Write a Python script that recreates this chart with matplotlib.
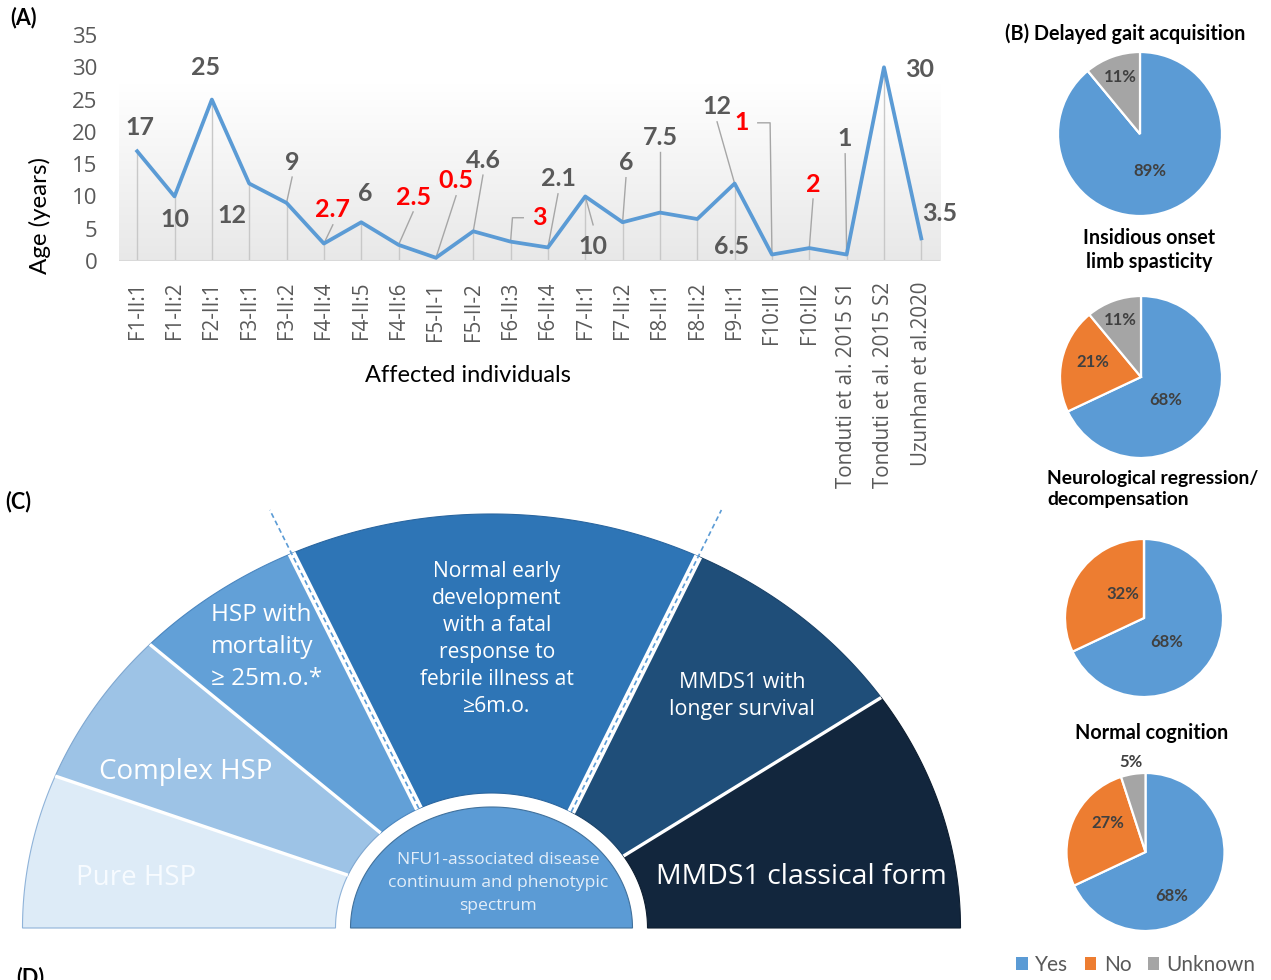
import numpy as np
import matplotlib
matplotlib.use('Agg')
import matplotlib.pyplot as plt
from matplotlib.patches import Polygon, Patch

W, H = 1271, 980

# ---------------- data ----------------
individuals = ["F1-II:1", "F1-II:2", "F2-II:1", "F3-II:1", "F3-II:2", "F4-II:4",
               "F4-II:5", "F4-II:6", "F5-II-1", "F5-II-2", "F6-II:3", "F6-II:4",
               "F7-II:1", "F7-II:2", "F8-II:1", "F8-II:2", "F9-II:1", "F10:II1",
               "F10:II2", "Tonduti et al. 2015 S1", "Tonduti et al. 2015 S2",
               "Uzunhan et al.2020"]
ages = [17, 10, 25, 12, 9, 2.7, 6, 2.5, 0.5, 4.6, 3, 2.1, 10, 6, 7.5, 6.5, 12, 1, 2, 1, 30, 3.5]
age_labels = ["17", "10", "25", "12", "9", "2.7", "6", "2.5", "0.5", "4.6", "3", "2.1",
              "10", "6", "7.5", "6.5", "12", "1", "2", "1", "30", "3.5"]
red_label = [False, False, False, False, False, True, False, True, True, False, True, False,
             False, False, False, False, False, True, True, False, False, False]
y_ticks = [0, 5, 10, 15, 20, 25, 30, 35]

pie_titles = ["(B) Delayed gait acquisition", "Insidious onset\nlimb spasticity",
              "Neurological regression/\ndecompensation", "Normal cognition"]
pie_yes = [89, 68, 68, 68]
pie_no = [0, 21, 32, 27]
pie_unknown = [11, 11, 0, 5]
pie_categories = ["Yes", "No", "Unknown"]

spectrum_labels = ["Pure HSP", "Complex HSP", "HSP with\nmortality\n\u2265 25m.o.*",
                   "Normal early\ndevelopment\nwith a fatal\nresponse to\nfebrile illness at\n\u22656m.o.",
                   "MMDS1 with\nlonger survival", "MMDS1 classical form"]
center_label = "NFU1-associated disease\ncontinuum and phenotypic\nspectrum"

# ---------------- layout / style ----------------
LINE_BLUE = '#5B9BD5'
GRAY_TXT = '#595959'
pie_colors = ['#5B9BD5', '#ED7D31', '#A5A5A5']

# label positions for panel A (category index, value units)
lab_pos = [(0.08, 20.75), (1.01, 6.5), (1.82, 29.9), (2.54, 7.1), (4.15, 15.3),
           (5.24, 7.9), (6.10, 10.5), (7.39, 9.9), (8.54, 12.4), (9.26, 15.6),
           (10.76, 6.7), (11.27, 12.7), (12.21, 2.2), (13.09, 15.2), (14.00, 19.2),
           (15.93, 2.2), (15.53, 23.85), (16.2, 21.4), (18.1, 11.9), (18.96, 18.9),
           (20.96, 29.7), (21.5, 7.3)]
leader = [None, None, None, None, 's', 's', None, 's', 's', 's', 'e', 's', 's', 's', 's',
          None, 's', 'e', 's', 's', None, None]

fig = plt.figure(figsize=(W / 100, H / 100), dpi=100)

# ---------------- panel C (background axes in pixel coords) ----------------
bg = fig.add_axes([0, 0, 1, 1])
bg.set_xlim(0, W)
bg.set_ylim(H, 0)
bg.axis('off')

CX, CY = 491.5, 928.0
A_OUT, B_OUT = 469.0, 414.0
A_IN, B_IN = 156.0, 135.0


def ell(theta, a, b):
    t = np.radians(theta)
    r = a * b / np.sqrt((b * np.cos(t)) ** 2 + (a * np.sin(t)) ** 2)
    return CX + r * np.cos(t), CY - r * np.sin(t)


bounds = [(180, 180), (160.8, 159.8), (140.3, 139.4), (118.1, 121.3), (60.9, 55.5),
          (30.6, 28.6), (0, 0)]
seg_colors = ['#DDEBF7', '#9DC3E6', '#62A0D7', '#2E75B6', '#1F4E79', '#12263D']
seg_edges = ['#8FB3D9', '#7FA7D0', '#4A86C0', '#2A66A0', '#1A4268', '#0E1E30']

for k in range(6):
    o1, i1 = bounds[k]
    o2, i2 = bounds[k + 1]
    to = np.linspace(o1, o2, 80)
    ti = np.linspace(i2, i1, 60)
    xo, yo = ell(to, A_OUT, B_OUT)
    xi, yi = ell(ti, A_IN, B_IN)
    pts = np.column_stack([np.concatenate([xo, xi]), np.concatenate([yo, yi])])
    bg.add_patch(Polygon(pts, closed=True, facecolor=seg_colors[k],
                         edgecolor=seg_edges[k], lw=0.8, zorder=1))

for k in range(1, 6):
    o, i = bounds[k]
    xo, yo = ell(o, A_OUT, B_OUT)
    xi, yi = ell(i, A_IN, B_IN)
    if k in (3, 4):
        dx, dy = xo - xi, yo - yi
        s = (510 - yi) / dy
        xe, ye = xi + s * dx, yi + s * dy
        bg.plot([xi, xo], [yi, yo], color='white', lw=6.0, solid_capstyle='butt', zorder=2)
        bg.plot([xi, xe], [yi, ye], color='#5B9BD5', lw=1.2, ls=(0, (3, 2)), zorder=3)
    else:
        bg.plot([xi, xo], [yi, yo], color='white', lw=2.4, solid_capstyle='butt', zorder=2)

# central disc
td = np.linspace(0, 180, 120)
xd, yd = ell(td, 141.0, 121.0)
bg.add_patch(Polygon(np.column_stack([xd, yd]), closed=True, facecolor='#5B9BD5',
                     edgecolor='#41719C', lw=0.8, zorder=2))

cfont = ['Open Sans', 'DejaVu Sans']
bg.text(136, 878, spectrum_labels[0], color='#F7FBFF', fontsize=20, family=cfont,
        ha='center', va='center', zorder=4)
bg.text(186, 772, spectrum_labels[1], color='white', fontsize=20, family=cfont,
        ha='center', va='center', zorder=4)
bg.text(211, 647, spectrum_labels[2], color='white', fontsize=17.5, family=cfont,
        ha='left', va='center', multialignment='left', linespacing=1.45, zorder=4)
bg.text(497, 639, spectrum_labels[3], color='white', fontsize=15.2, family=cfont,
        ha='center', va='center', linespacing=1.38, zorder=4)
bg.text(742, 696, spectrum_labels[4], color='white', fontsize=15.4, family=cfont,
        ha='center', va='center', linespacing=1.42, zorder=4)
bg.text(801, 877, spectrum_labels[5], color='white', fontsize=20.5, family=cfont,
        ha='center', va='center', zorder=4)
bg.text(498, 883, center_label, color='#E3EEF9', fontsize=12.6, family=cfont,
        ha='center', va='center', linespacing=1.55, zorder=4)

bg.text(10, 18, "(A)", fontsize=15.5, fontweight='bold', family='Lato', ha='left', va='center')
bg.text(5, 502, "(C)", fontsize=15.5, fontweight='bold', family='Lato', ha='left', va='center')
bg.text(16, 967, "(D)", fontsize=15.5, fontweight='bold', family='Lato', ha='left', va='top')

# ---------------- panel A ----------------
ax = fig.add_axes([118.5 / W, 1 - 261 / H, 821.5 / W, 226 / H])
ax.patch.set_alpha(0)
x = np.arange(len(individuals))
grad = np.linspace(0, 1, 256)[:, None]
top_c = np.array([1.0, 1.0, 1.0])
bot_c = np.array([0.91, 0.91, 0.91])
img = top_c[None, None, :] * (1 - grad[:, :, None]) + bot_c[None, None, :] * grad[:, :, None]
ax.imshow(img, extent=[-0.5, len(individuals) - 0.5, 0, 27.3], aspect='auto', zorder=0)
ax.vlines(x, 0, ages, color='#C8C8C8', lw=1.0, zorder=1)
ax.axhline(0, color='#D9D9D9', lw=2.2, zorder=2)
ax.plot(x, ages, color=LINE_BLUE, lw=2.7, zorder=4, solid_joinstyle='round')

for i, (lab, (lx, ly)) in enumerate(zip(age_labels, lab_pos)):
    col = '#FF0000' if red_label[i] else GRAY_TXT
    ax.text(lx, ly, lab, color=col, fontsize=18, fontweight='bold', family='Lato',
            ha='center', va='center', zorder=5, clip_on=False)
    v = ages[i]
    if leader[i] == 's':
        if ly > v:
            sy = ly - 2.3
        else:
            sy = ly + 3.4
        ax.plot([lx, i], [sy, v], color='#A6A6A6', lw=1.0, zorder=3)
    elif leader[i] == 'e':
        sgn = 1 if lx > i else -1
        ax.plot([lx - sgn * 0.42, i + sgn * 0.05, i], [ly, ly, v], color='#A6A6A6',
                lw=1.0, zorder=3)

ax.set_xlim(-0.5, len(individuals) - 0.5)
ax.set_ylim(0, 35)
ax.set_xticks(x)
ax.set_xticklabels(individuals, rotation=90, family='Open Sans', fontsize=14.8,
                   color=GRAY_TXT)
ax.set_yticks(y_ticks)
ax.set_yticklabels([str(t) for t in y_ticks], family='Open Sans', fontsize=16,
                   color=GRAY_TXT)
ax.tick_params(axis='x', length=0, pad=15)
ax.tick_params(axis='y', length=0, pad=15)
for sp in ax.spines.values():
    sp.set_visible(False)

fig.text(468 / W, 1 - 375 / H, "Affected individuals", fontsize=17, family='Lato',
         ha='center', va='center')
fig.text(40 / W, 1 - 215 / H, "Age (years)", fontsize=17.4, family='Lato',
         ha='center', va='center', rotation=90)

# ---------------- panel B ----------------
pie_geom = [(1140, 134, 82), (1141, 377, 81), (1144, 618, 79), (1145.5, 852, 79)]
pie_lab_pos = [[(0.12, -0.45), None, (-0.24, 0.70)],
               [(0.31, -0.29), (-0.59, 0.19), (-0.25, 0.70)],
               [(0.29, -0.30), (-0.27, 0.31), None],
               [(0.33, -0.56), (-0.48, 0.37), (-0.18, 1.14)]]
title_pos = [(1125, 34, 'center'), (1149, 250, 'center'), (1047, 489, 'left'),
             (1152, 733, 'center')]

for p in range(4):
    cx, cy, r = pie_geom[p]
    pa = fig.add_axes([(cx - r) / W, 1 - (cy + r) / H, 2 * r / W, 2 * r / H])
    vals = [pie_yes[p], pie_no[p], pie_unknown[p]]
    pa.pie(vals, colors=pie_colors, startangle=90, counterclock=False,
           wedgeprops=dict(edgecolor='white', linewidth=1.6))
    pa.set_xlim(-1, 1)
    pa.set_ylim(-1, 1)
    pa.set_aspect('equal')
    pa.axis('off')
    for j, v in enumerate(vals):
        if v > 0 and pie_lab_pos[p][j] is not None:
            lx, ly = pie_lab_pos[p][j]
            pa.text(lx, ly, f"{v}%", fontsize=12, fontweight='bold', family='Lato',
                    color='#404040', ha='center', va='center', clip_on=False)
    tx, ty, tha = title_pos[p]
    fs = 13.9 if p == 2 else 14.2
    fig.text(tx / W, 1 - ty / H, pie_titles[p], fontsize=fs, fontweight='bold',
             family='Lato', ha=tha, va='center', multialignment=tha, linespacing=1.3)

handles = [Patch(facecolor=c, edgecolor='none') for c in pie_colors]
leg = fig.legend(handles, pie_categories, ncol=3, loc='center',
                 bbox_to_anchor=(1136 / W, 1 - 965 / H), frameon=False,
                 handlelength=0.55, handleheight=0.55, handletextpad=0.35,
                 columnspacing=0.8, borderaxespad=0, borderpad=0,
                 prop={'family': 'Lato', 'size': 15})
for t in leg.get_texts():
    t.set_color(GRAY_TXT)

fig.savefig('out.png', dpi=100)
